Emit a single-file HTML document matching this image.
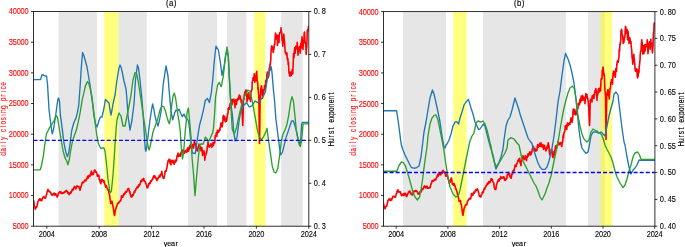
<!DOCTYPE html>
<html><head><meta charset="utf-8"><style>
html,body{margin:0;padding:0;background:#fff;width:685px;height:247px;overflow:hidden}
svg{display:block;will-change:transform}
</style></head><body>
<svg width="685" height="247" viewBox="0 0 685 247" font-family="Liberation Sans, sans-serif" font-size="8.1"><rect width="685" height="247" fill="#fff"/><clipPath id="clip33"><rect x="33.5" y="11.5" width="275.30" height="214.70"/></clipPath><rect x="58.6" y="11.5" width="38.40" height="214.70" fill="#808080" fill-opacity="0.2"/><rect x="118.4" y="11.5" width="28.40" height="214.70" fill="#808080" fill-opacity="0.2"/><rect x="188.2" y="11.5" width="28.80" height="214.70" fill="#808080" fill-opacity="0.2"/><rect x="227" y="11.5" width="19.30" height="214.70" fill="#808080" fill-opacity="0.2"/><rect x="281.2" y="11.5" width="21.50" height="214.70" fill="#808080" fill-opacity="0.2"/><rect x="104.2" y="11.5" width="14.20" height="214.70" fill="#ffff00" fill-opacity="0.5"/><rect x="254.1" y="11.5" width="11.40" height="214.70" fill="#ffff00" fill-opacity="0.5"/><g clip-path="url(#clip33)"><path d="M33.5,200.3 L33.8,201.3 L34.0,202.9 L34.2,205.1 L34.5,206.9 L34.8,206.8 L35.0,208.0 L35.2,209.1 L35.5,208.9 L35.8,207.8 L36.0,207.4 L36.2,207.1 L36.5,207.3 L36.8,206.7 L37.0,206.4 L37.2,205.1 L37.5,203.8 L37.8,202.3 L38.0,201.4 L38.2,201.1 L38.5,200.9 L38.8,199.9 L39.0,200.3 L39.2,199.9 L39.5,199.3 L39.8,198.7 L40.0,200.0 L40.2,200.1 L40.5,199.7 L40.8,199.4 L41.0,200.7 L41.2,200.1 L41.5,200.4 L41.8,200.6 L42.0,198.7 L42.2,199.2 L42.5,198.7 L42.8,197.6 L43.0,197.1 L43.2,197.2 L43.5,197.1 L43.8,197.2 L44.0,196.5 L44.2,197.1 L44.5,197.6 L44.8,198.1 L45.0,197.7 L45.2,197.9 L45.5,198.1 L45.8,197.3 L46.0,196.6 L46.2,195.6 L46.5,194.6 L46.8,194.0 L47.0,192.0 L47.2,191.5 L47.5,191.6 L47.8,190.0 L48.0,189.3 L48.2,191.0 L48.5,190.6 L48.8,190.7 L49.0,191.4 L49.2,191.6 L49.5,191.5 L49.8,191.7 L50.0,192.1 L50.2,191.9 L50.5,192.2 L50.8,193.3 L51.0,193.3 L51.2,194.2 L51.5,194.6 L51.8,194.9 L52.0,195.1 L52.2,194.8 L52.5,195.0 L52.8,194.9 L53.0,193.9 L53.2,194.3 L53.5,194.5 L53.8,194.5 L54.0,194.4 L54.2,193.1 L54.5,194.8 L54.8,195.2 L55.0,193.8 L55.2,194.4 L55.5,193.9 L55.8,194.3 L56.0,194.0 L56.2,195.1 L56.5,195.5 L56.8,195.9 L57.0,196.2 L57.2,197.1 L57.5,195.7 L57.8,195.8 L58.0,195.4 L58.2,194.1 L58.5,193.4 L58.8,192.7 L59.0,192.5 L59.2,192.8 L59.5,191.9 L59.8,192.1 L60.0,192.3 L60.2,192.1 L60.5,192.6 L60.8,191.7 L61.0,192.0 L61.2,193.5 L61.5,193.1 L61.8,192.8 L62.0,192.8 L62.2,193.3 L62.5,193.2 L62.8,193.5 L63.0,192.9 L63.2,193.2 L63.5,192.8 L63.8,192.3 L64.0,192.2 L64.2,192.8 L64.5,192.4 L64.8,191.6 L65.0,191.9 L65.2,192.0 L65.5,191.1 L65.8,191.3 L66.0,190.7 L66.2,190.5 L66.5,190.4 L66.8,191.4 L67.0,191.1 L67.2,191.2 L67.5,191.6 L67.8,192.4 L68.0,193.2 L68.2,192.5 L68.5,193.4 L68.8,193.5 L69.0,194.2 L69.2,194.7 L69.5,193.9 L69.8,193.4 L70.0,192.7 L70.2,192.6 L70.5,193.2 L70.8,192.6 L71.0,191.5 L71.2,192.8 L71.5,191.4 L71.8,191.0 L72.0,190.6 L72.2,189.4 L72.5,189.9 L72.8,190.3 L73.0,189.8 L73.2,189.5 L73.5,189.0 L73.8,187.5 L74.0,187.8 L74.2,186.9 L74.5,186.4 L74.8,187.1 L75.0,187.8 L75.2,187.1 L75.5,187.9 L75.8,188.9 L76.0,188.4 L76.2,187.7 L76.5,187.4 L76.8,186.6 L77.0,185.7 L77.2,186.1 L77.5,186.3 L77.8,186.2 L78.0,186.4 L78.2,186.5 L78.5,186.6 L78.8,186.7 L79.0,186.5 L79.2,188.0 L79.5,188.4 L79.8,189.0 L80.0,190.3 L80.2,189.1 L80.5,188.8 L80.8,187.1 L81.0,186.2 L81.2,186.3 L81.5,185.6 L81.8,184.1 L82.0,182.9 L82.2,183.2 L82.5,182.3 L82.8,182.8 L83.0,182.7 L83.2,182.2 L83.5,181.9 L83.8,182.3 L84.0,181.9 L84.2,180.7 L84.5,180.8 L84.8,180.3 L85.0,180.0 L85.2,180.4 L85.5,180.5 L85.8,181.0 L86.0,180.3 L86.2,179.6 L86.5,179.1 L86.8,179.2 L87.0,178.1 L87.2,177.6 L87.5,176.8 L87.8,176.1 L88.0,176.1 L88.2,178.1 L88.5,177.0 L88.8,176.7 L89.0,176.2 L89.2,175.5 L89.5,175.1 L89.8,176.4 L90.0,175.2 L90.2,175.9 L90.5,175.4 L90.8,173.6 L91.0,172.4 L91.2,171.7 L91.5,171.1 L91.8,173.1 L92.0,173.9 L92.2,174.7 L92.5,174.0 L92.8,174.3 L93.0,173.0 L93.2,174.5 L93.5,173.1 L93.8,172.2 L94.0,172.0 L94.2,171.0 L94.5,170.4 L94.8,169.9 L95.0,170.7 L95.2,170.5 L95.5,171.1 L95.8,172.2 L96.0,172.4 L96.2,172.0 L96.5,172.1 L96.8,173.2 L97.0,173.7 L97.2,175.9 L97.5,176.4 L97.8,176.3 L98.0,175.3 L98.2,175.8 L98.5,175.4 L98.8,175.2 L99.0,176.0 L99.2,179.4 L99.5,179.6 L99.8,179.8 L100.0,181.5 L100.2,182.4 L100.5,182.4 L100.8,183.8 L101.0,182.8 L101.2,181.6 L101.5,179.5 L101.8,180.2 L102.0,179.3 L102.2,180.5 L102.5,180.6 L102.8,181.2 L103.0,180.5 L103.2,180.3 L103.5,180.9 L103.8,182.4 L104.0,182.1 L104.2,181.1 L104.5,182.9 L104.8,184.4 L105.0,184.3 L105.2,185.3 L105.5,186.3 L105.8,187.1 L106.0,185.9 L106.2,186.2 L106.5,185.9 L106.8,187.2 L107.0,187.9 L107.2,187.8 L107.5,188.7 L107.8,189.9 L108.0,189.6 L108.2,189.8 L108.5,190.9 L108.8,192.3 L109.0,193.5 L109.2,193.9 L109.5,194.8 L109.8,196.6 L110.0,198.6 L110.2,199.7 L110.5,201.3 L110.8,203.7 L111.0,203.3 L111.2,202.5 L111.5,201.7 L111.8,201.6 L112.0,201.2 L112.2,202.6 L112.5,203.6 L112.8,205.1 L113.0,206.4 L113.2,207.7 L113.5,209.9 L113.8,210.9 L114.0,213.0 L114.2,214.7 L114.5,215.4 L114.8,214.4 L115.0,212.7 L115.2,210.9 L115.5,209.3 L115.8,208.7 L116.0,208.4 L116.2,207.4 L116.5,206.6 L116.8,206.4 L117.0,205.8 L117.2,204.5 L117.5,203.8 L117.8,203.3 L118.0,203.3 L118.2,202.8 L118.5,203.3 L118.8,202.6 L119.0,202.9 L119.2,201.8 L119.5,201.8 L119.8,201.1 L120.0,201.1 L120.2,201.2 L120.5,201.0 L120.8,200.6 L121.0,199.2 L121.2,198.1 L121.5,195.9 L121.8,196.8 L122.0,197.3 L122.2,197.3 L122.5,196.1 L122.8,197.3 L123.0,196.1 L123.2,196.1 L123.5,194.5 L123.8,193.9 L124.0,194.5 L124.2,194.7 L124.5,193.6 L124.8,193.3 L125.0,193.8 L125.2,192.2 L125.5,192.7 L125.8,191.5 L126.0,191.9 L126.2,191.6 L126.5,192.1 L126.8,191.4 L127.0,190.9 L127.2,190.5 L127.5,189.7 L127.8,189.5 L128.0,188.8 L128.2,188.5 L128.5,189.1 L128.8,188.7 L129.0,189.7 L129.2,190.8 L129.5,191.9 L129.8,191.6 L130.0,192.7 L130.2,194.1 L130.5,194.9 L130.8,195.8 L131.0,196.8 L131.2,195.9 L131.5,196.6 L131.8,197.1 L132.0,196.4 L132.2,195.1 L132.5,195.0 L132.8,194.6 L133.0,195.4 L133.2,195.5 L133.5,194.4 L133.8,193.2 L134.0,192.3 L134.2,192.0 L134.5,191.2 L134.8,192.3 L135.0,190.9 L135.2,190.4 L135.5,190.2 L135.8,190.0 L136.0,188.9 L136.2,188.5 L136.5,188.3 L136.8,188.2 L137.0,187.4 L137.2,186.8 L137.5,186.7 L137.8,187.7 L138.0,186.1 L138.2,186.1 L138.5,186.7 L138.8,184.8 L139.0,185.4 L139.2,185.6 L139.5,184.6 L139.8,184.5 L140.0,184.6 L140.2,183.4 L140.5,182.9 L140.8,181.4 L141.0,180.6 L141.2,180.6 L141.5,180.4 L141.8,181.5 L142.0,180.8 L142.2,179.4 L142.5,180.1 L142.8,180.5 L143.0,180.3 L143.2,179.7 L143.5,178.6 L143.8,178.5 L144.0,180.3 L144.2,181.1 L144.5,181.2 L144.8,181.7 L145.0,181.5 L145.2,181.5 L145.5,182.4 L145.8,183.7 L146.0,183.8 L146.2,184.3 L146.5,184.9 L146.8,186.4 L147.0,187.8 L147.2,187.6 L147.5,187.8 L147.8,187.6 L148.0,187.2 L148.2,185.9 L148.5,184.8 L148.8,183.5 L149.0,184.8 L149.2,184.0 L149.5,183.2 L149.8,182.6 L150.0,183.1 L150.2,183.4 L150.5,182.9 L150.8,180.7 L151.0,181.2 L151.2,181.4 L151.5,181.2 L151.8,180.6 L152.0,179.7 L152.2,179.8 L152.5,178.7 L152.8,179.1 L153.0,178.0 L153.2,177.2 L153.5,176.6 L153.8,176.0 L154.0,175.6 L154.2,176.3 L154.5,177.7 L154.8,176.9 L155.0,176.0 L155.2,177.4 L155.5,177.1 L155.8,177.6 L156.0,178.1 L156.2,179.1 L156.5,178.5 L156.8,179.9 L157.0,180.7 L157.2,178.9 L157.5,179.5 L157.8,178.8 L158.0,178.8 L158.2,178.3 L158.5,177.1 L158.8,176.5 L159.0,176.5 L159.2,176.0 L159.5,175.4 L159.8,177.1 L160.0,176.8 L160.2,175.1 L160.5,175.0 L160.8,175.0 L161.0,173.8 L161.2,173.9 L161.5,173.0 L161.8,171.3 L162.0,173.1 L162.2,174.8 L162.5,176.2 L162.8,176.7 L163.0,177.0 L163.2,178.0 L163.5,178.5 L163.8,178.2 L164.0,178.1 L164.2,177.3 L164.5,175.2 L164.8,174.0 L165.0,171.5 L165.2,171.5 L165.5,171.1 L165.8,171.4 L166.0,170.8 L166.2,171.2 L166.5,169.1 L166.8,168.4 L167.0,167.2 L167.2,166.1 L167.5,163.6 L167.8,162.9 L168.0,160.9 L168.2,161.1 L168.5,160.7 L168.8,161.1 L169.0,159.2 L169.2,159.9 L169.5,160.8 L169.8,159.3 L170.0,162.6 L170.2,163.6 L170.5,162.4 L170.8,164.2 L171.0,164.8 L171.2,160.9 L171.5,160.4 L171.8,160.5 L172.0,161.4 L172.2,161.1 L172.5,161.8 L172.8,162.8 L173.0,160.2 L173.2,161.0 L173.5,162.8 L173.8,162.6 L174.0,163.4 L174.2,164.2 L174.5,163.1 L174.8,162.3 L175.0,161.6 L175.2,160.1 L175.5,162.1 L175.8,161.2 L176.0,160.6 L176.2,160.5 L176.5,160.9 L176.8,157.7 L177.0,155.7 L177.2,155.5 L177.5,155.8 L177.8,154.2 L178.0,153.1 L178.2,155.2 L178.5,156.6 L178.8,156.5 L179.0,156.2 L179.2,155.6 L179.5,154.5 L179.8,154.1 L180.0,154.9 L180.2,154.8 L180.5,156.1 L180.8,154.1 L181.0,152.1 L181.2,153.4 L181.5,152.5 L181.8,152.6 L182.0,153.1 L182.2,151.7 L182.5,150.4 L182.8,152.2 L183.0,149.8 L183.2,152.4 L183.5,151.4 L183.8,153.3 L184.0,153.5 L184.2,153.3 L184.5,153.3 L184.8,152.7 L185.0,150.5 L185.2,151.7 L185.5,151.5 L185.8,151.7 L186.0,151.0 L186.2,150.4 L186.5,151.4 L186.8,152.2 L187.0,151.7 L187.2,149.5 L187.5,148.5 L187.8,147.8 L188.0,150.2 L188.2,151.1 L188.5,151.2 L188.8,150.1 L189.0,148.4 L189.2,149.1 L189.5,146.8 L189.8,145.6 L190.0,147.2 L190.2,148.0 L190.5,147.6 L190.8,145.5 L191.0,144.0 L191.2,145.8 L191.5,146.2 L191.8,148.0 L192.0,146.4 L192.2,145.9 L192.5,144.6 L192.8,147.5 L193.0,144.8 L193.2,146.2 L193.5,148.2 L193.8,145.9 L194.0,143.4 L194.2,142.2 L194.5,140.9 L194.8,142.8 L195.0,143.7 L195.2,143.2 L195.5,143.9 L195.8,147.0 L196.0,147.0 L196.2,146.9 L196.5,150.2 L196.8,148.8 L197.0,148.5 L197.2,151.0 L197.5,151.0 L197.8,148.6 L198.0,148.4 L198.2,146.3 L198.5,145.9 L198.8,146.6 L199.0,144.1 L199.2,146.5 L199.5,148.1 L199.8,148.6 L200.0,146.8 L200.2,146.5 L200.5,147.6 L200.8,149.1 L201.0,150.8 L201.2,147.5 L201.5,147.5 L201.8,147.5 L202.0,148.9 L202.2,151.0 L202.5,155.4 L202.8,153.9 L203.0,153.9 L203.2,152.6 L203.5,151.3 L203.8,152.6 L204.0,150.8 L204.2,152.5 L204.5,155.8 L204.8,160.1 L205.0,158.4 L205.2,156.5 L205.5,154.9 L205.8,155.0 L206.0,154.2 L206.2,153.0 L206.5,153.2 L206.8,151.2 L207.0,150.5 L207.2,147.1 L207.5,145.8 L207.8,145.2 L208.0,141.9 L208.2,143.6 L208.5,145.9 L208.8,146.4 L209.0,147.0 L209.2,147.2 L209.5,145.7 L209.8,146.0 L210.0,145.2 L210.2,145.5 L210.5,145.6 L210.8,145.7 L211.0,143.6 L211.2,143.9 L211.5,146.6 L211.8,147.3 L212.0,146.1 L212.2,144.6 L212.5,145.9 L212.8,145.4 L213.0,142.5 L213.2,142.4 L213.5,145.5 L213.8,142.8 L214.0,143.5 L214.2,142.9 L214.5,143.0 L214.8,141.8 L215.0,140.1 L215.2,135.9 L215.5,136.0 L215.8,136.0 L216.0,135.4 L216.2,133.4 L216.5,132.7 L216.8,136.5 L217.0,133.5 L217.2,132.5 L217.5,130.2 L217.8,130.2 L218.0,130.8 L218.2,132.7 L218.5,132.2 L218.8,131.3 L219.0,131.0 L219.2,131.0 L219.5,129.8 L219.8,128.7 L220.0,130.1 L220.2,127.3 L220.5,126.4 L220.8,124.0 L221.0,122.9 L221.2,125.6 L221.5,123.3 L221.8,123.8 L222.0,127.0 L222.2,126.3 L222.5,124.5 L222.8,122.0 L223.0,116.8 L223.2,116.1 L223.5,115.4 L223.8,118.3 L224.0,119.8 L224.2,116.7 L224.5,118.2 L224.8,116.6 L225.0,120.2 L225.2,121.9 L225.5,121.4 L225.8,118.7 L226.0,121.1 L226.2,120.8 L226.5,121.1 L226.8,119.9 L227.0,117.3 L227.2,117.2 L227.5,113.6 L227.8,114.2 L228.0,113.2 L228.2,108.3 L228.5,109.5 L228.8,109.0 L229.0,107.8 L229.2,107.5 L229.5,109.1 L229.8,106.0 L230.0,103.9 L230.2,106.3 L230.5,106.8 L230.8,102.6 L231.0,103.5 L231.2,99.9 L231.5,102.7 L231.8,103.5 L232.0,104.6 L232.2,100.7 L232.5,99.5 L232.8,102.4 L233.0,99.2 L233.2,101.2 L233.5,100.9 L233.8,101.4 L234.0,99.4 L234.2,101.3 L234.5,101.8 L234.8,103.1 L235.0,107.7 L235.2,104.5 L235.5,102.7 L235.8,99.7 L236.0,104.3 L236.2,102.8 L236.5,104.5 L236.8,101.1 L237.0,99.7 L237.2,100.4 L237.5,100.3 L237.8,98.2 L238.0,99.3 L238.2,98.1 L238.5,99.4 L238.8,96.8 L239.0,97.1 L239.2,95.0 L239.5,98.4 L239.8,97.8 L240.0,97.6 L240.2,96.1 L240.5,99.3 L240.8,99.6 L241.0,99.2 L241.2,102.8 L241.5,100.5 L241.8,105.8 L242.0,113.3 L242.2,113.1 L242.5,119.9 L242.8,125.4 L243.0,119.2 L243.2,110.7 L243.5,98.4 L243.8,99.5 L244.0,99.4 L244.2,95.0 L244.5,94.9 L244.8,92.2 L245.0,93.4 L245.2,91.6 L245.5,92.9 L245.8,90.0 L246.0,90.0 L246.2,90.3 L246.5,91.3 L246.8,95.9 L247.0,102.0 L247.2,97.4 L247.5,100.1 L247.8,98.5 L248.0,96.5 L248.2,94.8 L248.5,93.7 L248.8,92.7 L249.0,95.3 L249.2,98.6 L249.5,98.8 L249.8,98.3 L250.0,99.4 L250.2,98.7 L250.5,101.5 L250.8,96.4 L251.0,91.4 L251.2,90.6 L251.5,91.0 L251.8,89.7 L252.0,89.6 L252.2,82.0 L252.5,81.0 L252.8,80.4 L253.0,77.8 L253.2,77.6 L253.5,78.3 L253.8,80.3 L254.0,77.8 L254.2,73.7 L254.5,76.4 L254.8,82.2 L255.0,81.2 L255.2,80.2 L255.5,76.2 L255.8,76.6 L256.0,80.6 L256.2,73.0 L256.5,76.1 L256.8,71.3 L257.0,78.0 L257.2,81.1 L257.5,81.3 L257.8,83.8 L258.0,89.8 L258.2,87.9 L258.5,93.5 L258.8,96.7 L259.0,105.2 L259.2,127.1 L259.5,143.4 L259.8,126.9 L260.0,108.2 L260.2,95.5 L260.5,95.1 L260.8,88.9 L261.0,88.6 L261.2,87.8 L261.5,85.7 L261.8,87.7 L262.0,92.4 L262.2,94.1 L262.5,98.3 L262.8,94.9 L263.0,92.2 L263.2,94.6 L263.5,89.5 L263.8,92.0 L264.0,89.7 L264.2,89.2 L264.5,85.5 L264.8,86.7 L265.0,88.3 L265.2,88.8 L265.5,86.9 L265.8,80.3 L266.0,81.8 L266.2,80.1 L266.5,82.0 L266.8,75.0 L267.0,75.4 L267.2,72.9 L267.5,72.1 L267.8,74.0 L268.0,75.1 L268.2,77.6 L268.5,76.4 L268.8,75.6 L269.0,74.0 L269.2,68.2 L269.5,70.7 L269.8,66.4 L270.0,64.1 L270.2,65.3 L270.5,62.1 L270.8,60.2 L271.0,52.0 L271.2,50.3 L271.5,47.1 L271.8,45.7 L272.0,48.0 L272.2,47.4 L272.5,47.0 L272.8,47.3 L273.0,50.4 L273.2,52.5 L273.5,51.3 L273.8,47.7 L274.0,49.1 L274.2,45.9 L274.5,44.0 L274.8,44.2 L275.0,41.3 L275.2,36.9 L275.5,33.0 L275.8,33.7 L276.0,35.9 L276.2,39.0 L276.5,35.7 L276.8,37.1 L277.0,37.3 L277.2,35.4 L277.5,45.4 L277.8,39.8 L278.0,35.4 L278.2,36.0 L278.5,41.8 L278.8,38.3 L279.0,42.4 L279.2,36.0 L279.5,33.9 L279.8,33.1 L280.0,32.2 L280.2,32.6 L280.5,32.3 L280.8,31.5 L281.0,27.7 L281.2,30.7 L281.5,31.5 L281.8,33.7 L282.0,39.3 L282.2,40.8 L282.5,41.1 L282.8,46.1 L283.0,42.8 L283.2,36.6 L283.5,36.3 L283.8,34.0 L284.0,36.7 L284.2,39.0 L284.5,41.7 L284.8,45.2 L285.0,49.3 L285.2,51.9 L285.5,53.1 L285.8,52.9 L286.0,52.4 L286.2,54.2 L286.5,55.0 L286.8,52.8 L287.0,53.9 L287.2,58.4 L287.5,59.9 L287.8,58.4 L288.0,61.1 L288.2,64.7 L288.5,62.3 L288.8,69.4 L289.0,73.2 L289.2,72.3 L289.5,75.4 L289.8,75.2 L290.0,76.3 L290.2,73.0 L290.5,72.0 L290.8,72.5 L291.0,74.6 L291.2,75.5 L291.5,73.8 L291.8,71.7 L292.0,72.4 L292.2,69.8 L292.5,73.2 L292.8,73.8 L293.0,67.9 L293.2,64.0 L293.5,53.6 L293.8,55.1 L294.0,57.8 L294.2,53.3 L294.5,49.7 L294.8,47.6 L295.0,50.3 L295.2,53.1 L295.5,47.9 L295.8,46.2 L296.0,47.8 L296.2,47.7 L296.5,46.2 L296.8,48.8 L297.0,46.0 L297.2,42.3 L297.5,47.1 L297.8,51.1 L298.0,55.1 L298.2,52.0 L298.5,47.9 L298.8,48.0 L299.0,47.4 L299.2,47.4 L299.5,46.7 L299.8,51.0 L300.0,50.3 L300.2,53.3 L300.5,48.1 L300.8,43.5 L301.0,47.9 L301.2,43.9 L301.5,41.4 L301.8,40.0 L302.0,36.9 L302.2,41.6 L302.5,48.1 L302.8,48.5 L303.0,49.3 L303.2,45.4 L303.5,40.0 L303.8,42.3 L304.0,37.6 L304.2,32.9 L304.5,32.0 L304.8,38.2 L305.0,41.2 L305.2,43.4 L305.5,42.9 L305.8,44.0 L306.0,50.3 L306.2,54.5 L306.5,48.6 L306.8,47.8 L307.0,40.4 L307.2,31.2 L307.5,29.9 L307.8,31.4 L308.0,29.8 L308.2,29.7 L308.5,26.5 L308.8,25.7" fill="none" stroke="#ff0000" stroke-width="1.6" stroke-linejoin="round"/><path d="M33.5,79.6 L40.6,79.6 L42.0,74.6 L43.5,75.2 L45.0,76.0 L46.5,76.0 L47.5,84.0 L49.0,109.5 L51.4,129.0 L52.3,133.8 L53.6,129.0 L55.6,116.0 L57.8,99.7 L58.6,98.0 L59.5,101.4 L60.3,114.2 L62.2,128.4 L63.9,142.6 L65.9,152.5 L67.3,156.7 L68.8,152.5 L70.2,142.6 L71.6,131.2 L73.0,125.5 L74.4,121.3 L75.9,118.4 L77.3,112.8 L78.7,105.7 L80.2,85.0 L81.5,65.0 L82.6,52.4 L84.0,56.0 L85.4,61.0 L87.0,67.0 L88.5,76.0 L90.0,85.0 L92.6,104.0 L94.0,116.0 L95.5,124.0 L97.0,127.0 L99.4,119.2 L100.5,117.0 L102.0,117.0 L104.0,108.0 L105.4,99.4 L107.0,101.0 L108.0,102.0 L109.0,103.0 L110.0,110.0 L111.0,115.0 L112.0,110.0 L113.0,104.0 L115.0,95.0 L117.0,80.0 L119.0,68.0 L120.0,65.0 L121.0,67.0 L122.0,71.0 L124.0,81.0 L126.0,89.0 L127.0,100.0 L128.0,116.0 L130.0,130.0 L132.0,120.0 L134.0,104.0 L135.5,80.0 L137.4,65.0 L138.5,68.0 L140.0,80.0 L142.0,100.0 L143.5,120.0 L144.5,138.0 L145.3,149.0 L145.9,151.2 L146.6,148.0 L147.3,142.0 L148.5,132.0 L150.0,120.0 L151.5,110.0 L152.6,104.0 L154.0,110.0 L155.0,116.0 L156.5,122.0 L158.0,126.0 L159.5,120.0 L161.0,112.0 L163.2,84.3 L166.0,66.0 L168.0,76.0 L169.1,89.9 L170.2,102.8 L171.4,113.3 L172.7,119.8 L174.3,114.1 L175.9,110.1 L177.5,110.9 L179.1,109.3 L180.7,113.3 L182.4,116.6 L184.0,114.1 L185.6,117.4 L187.2,119.0 L188.5,121.0 L189.5,128.0 L190.8,140.0 L191.8,150.0 L192.5,153.0 L195.3,153.5 L196.3,146.0 L198.0,134.7 L199.6,125.0 L201.3,118.7 L203.3,110.6 L205.3,100.5 L207.4,98.5 L209.4,102.5 L211.4,92.4 L212.7,79.7 L214.7,57.0 L216.0,46.2 L218.4,50.0 L220.4,62.7 L222.0,75.4 L224.0,67.0 L225.5,55.6 L227.0,50.0 L228.3,57.0 L229.7,82.5 L231.0,105.0 L232.3,114.0 L233.7,131.0 L235.1,141.0 L237.0,137.0 L238.8,122.6 L240.8,111.0 L243.6,105.6 L246.5,102.7 L249.3,107.0 L252.0,105.6 L255.0,101.0 L257.8,102.7 L260.7,100.0 L263.5,95.6 L265.4,92.0 L267.0,80.3 L268.7,73.0 L270.3,69.7 L271.1,66.5 L271.9,71.4 L272.7,81.1 L273.5,90.8 L274.4,99.0 L275.9,119.0 L277.8,133.7 L279.6,148.3 L280.7,154.8 L282.5,152.0 L284.3,144.6 L286.1,137.4 L288.0,131.9 L289.8,126.4 L291.6,121.0 L293.4,121.0 L295.2,126.4 L297.0,133.7 L298.2,139.2 L299.6,144.6 L300.6,141.0 L301.1,133.0 L301.6,124.5 L302.3,122.3 L308.8,122.3" fill="none" stroke="#1f77b4" stroke-width="1.35" stroke-linejoin="round"/><path d="M33.5,169.9 L40.2,169.9 L41.3,166.3 L42.3,161.0 L43.4,155.8 L44.4,147.4 L45.5,140.0 L46.5,133.7 L47.6,131.6 L48.6,129.5 L49.7,127.4 L51.8,124.2 L53.9,121.0 L55.5,117.0 L56.5,115.8 L57.4,117.0 L58.8,125.5 L61.1,139.7 L63.1,151.0 L65.1,158.2 L66.8,161.0 L67.9,164.7 L69.3,159.6 L70.8,149.6 L72.5,141.1 L74.4,135.5 L76.4,129.8 L78.1,122.7 L80.1,112.8 L81.5,104.3 L82.2,99.7 L83.8,93.2 L85.4,86.0 L87.4,81.6 L89.0,84.0 L90.5,90.0 L91.9,96.5 L93.5,109.5 L95.1,122.4 L96.8,135.4 L98.4,143.5 L100.0,147.0 L101.0,148.6 L102.0,148.0 L104.0,148.0 L105.0,151.0 L106.6,165.0 L108.0,179.0 L110.0,193.0 L111.4,191.0 L113.0,175.0 L114.0,161.0 L115.0,145.0 L116.0,130.0 L117.0,120.0 L119.0,113.0 L121.0,116.0 L123.0,126.0 L125.0,126.0 L127.0,116.0 L129.0,106.0 L131.0,95.0 L133.0,80.0 L135.0,72.6 L136.6,73.4 L138.0,80.0 L139.5,90.0 L141.0,100.0 L143.0,114.0 L145.5,130.0 L147.0,140.0 L148.2,147.0 L149.1,150.0 L150.0,147.0 L151.5,139.7 L153.0,132.0 L155.7,124.6 L157.3,120.6 L158.9,114.1 L160.5,108.5 L162.1,106.0 L163.8,106.8 L165.4,110.9 L167.0,117.4 L168.6,122.2 L169.4,123.8 L170.7,117.4 L171.8,104.4 L173.0,96.3 L174.3,93.1 L175.6,98.0 L176.7,106.0 L177.8,114.1 L179.1,122.2 L180.2,130.9 L181.5,150.0 L182.5,159.0 L183.6,153.0 L185.1,132.9 L187.1,112.6 L188.4,108.0 L189.6,120.7 L191.0,137.0 L192.0,157.0 L193.6,175.0 L195.0,195.6 L196.4,179.0 L198.0,161.0 L199.6,146.0 L201.2,143.6 L202.8,144.4 L204.1,141.2 L205.3,137.2 L206.9,138.8 L208.5,141.2 L209.3,140.4 L210.6,137.2 L211.7,134.7 L212.6,133.1 L213.5,128.0 L214.5,115.0 L215.6,96.6 L217.6,85.0 L219.3,82.5 L221.2,86.7 L223.2,76.8 L225.0,61.0 L227.0,47.0 L228.3,55.6 L229.2,76.8 L230.3,96.6 L231.0,109.0 L232.3,129.7 L234.3,134.0 L236.5,128.0 L239.4,114.0 L242.2,102.7 L245.0,95.6 L247.9,90.0 L250.0,91.4 L252.0,100.0 L253.6,108.4 L255.6,119.8 L257.3,129.7 L259.3,136.8 L261.5,139.7 L263.5,136.8 L265.5,132.6 L267.0,128.3 L268.6,141.0 L270.5,153.8 L272.3,166.5 L274.1,172.0 L275.9,173.0 L277.8,168.3 L279.6,155.6 L281.4,141.0 L283.2,133.7 L285.0,130.0 L286.9,124.6 L288.7,115.5 L290.5,102.7 L292.0,96.6 L293.4,101.0 L294.9,115.5 L296.3,130.0 L297.8,139.2 L299.2,144.6 L300.3,146.5 L301.5,141.0 L302.4,132.0 L302.9,125.5 L303.5,123.8 L308.8,123.8" fill="none" stroke="#2ca02c" stroke-width="1.35" stroke-linejoin="round"/><line x1="33.5" y1="140.4" x2="308.8" y2="140.4" stroke="#0000ff" stroke-width="1.4" stroke-dasharray="4 2.1"/></g><rect x="33.5" y="11.5" width="275.30" height="214.70" fill="none" stroke="#1a1a1a" stroke-width="0.9"/><line x1="31.0" y1="11.50" x2="33.5" y2="11.50" stroke="#000" stroke-width="0.8"/><text x="12.30 16.79 21.28 25.77 30.26" y="14.45" text-anchor="middle" fill="#ff0000" font-size="8.4" stroke="#ff0000" stroke-width="0.1" transform="scale(0.88,1)" >40000</text><line x1="31.0" y1="42.17" x2="33.5" y2="42.17" stroke="#000" stroke-width="0.8"/><text x="12.30 16.79 21.28 25.77 30.26" y="45.12" text-anchor="middle" fill="#ff0000" font-size="8.4" stroke="#ff0000" stroke-width="0.1" transform="scale(0.88,1)" >35000</text><line x1="31.0" y1="72.84" x2="33.5" y2="72.84" stroke="#000" stroke-width="0.8"/><text x="12.30 16.79 21.28 25.77 30.26" y="75.79" text-anchor="middle" fill="#ff0000" font-size="8.4" stroke="#ff0000" stroke-width="0.1" transform="scale(0.88,1)" >30000</text><line x1="31.0" y1="103.51" x2="33.5" y2="103.51" stroke="#000" stroke-width="0.8"/><text x="12.30 16.79 21.28 25.77 30.26" y="106.46" text-anchor="middle" fill="#ff0000" font-size="8.4" stroke="#ff0000" stroke-width="0.1" transform="scale(0.88,1)" >25000</text><line x1="31.0" y1="134.19" x2="33.5" y2="134.19" stroke="#000" stroke-width="0.8"/><text x="12.30 16.79 21.28 25.77 30.26" y="137.14" text-anchor="middle" fill="#ff0000" font-size="8.4" stroke="#ff0000" stroke-width="0.1" transform="scale(0.88,1)" >20000</text><line x1="31.0" y1="164.86" x2="33.5" y2="164.86" stroke="#000" stroke-width="0.8"/><text x="12.30 16.79 21.28 25.77 30.26" y="167.81" text-anchor="middle" fill="#ff0000" font-size="8.4" stroke="#ff0000" stroke-width="0.1" transform="scale(0.88,1)" >15000</text><line x1="31.0" y1="195.53" x2="33.5" y2="195.53" stroke="#000" stroke-width="0.8"/><text x="12.30 16.79 21.28 25.77 30.26" y="198.48" text-anchor="middle" fill="#ff0000" font-size="8.4" stroke="#ff0000" stroke-width="0.1" transform="scale(0.88,1)" >10000</text><line x1="31.0" y1="226.20" x2="33.5" y2="226.20" stroke="#000" stroke-width="0.8"/><text x="16.79 21.28 25.77 30.26" y="229.15" text-anchor="middle" fill="#ff0000" font-size="8.4" stroke="#ff0000" stroke-width="0.1" transform="scale(0.88,1)" >5000</text><line x1="308.8" y1="11.50" x2="311.3" y2="11.50" stroke="#000" stroke-width="0.8"/><text x="358.95 362.53 367.93" y="14.45" text-anchor="middle" fill="#000" font-size="8.4" stroke="#000" stroke-width="0.1" transform="scale(0.88,1)" >0.8</text><line x1="308.8" y1="54.44" x2="311.3" y2="54.44" stroke="#000" stroke-width="0.8"/><text x="358.95 362.53 367.93" y="57.39" text-anchor="middle" fill="#000" font-size="8.4" stroke="#000" stroke-width="0.1" transform="scale(0.88,1)" >0.7</text><line x1="308.8" y1="97.38" x2="311.3" y2="97.38" stroke="#000" stroke-width="0.8"/><text x="358.95 362.53 367.93" y="100.33" text-anchor="middle" fill="#000" font-size="8.4" stroke="#000" stroke-width="0.1" transform="scale(0.88,1)" >0.6</text><line x1="308.8" y1="140.32" x2="311.3" y2="140.32" stroke="#000" stroke-width="0.8"/><text x="358.95 362.53 367.93" y="143.27" text-anchor="middle" fill="#000" font-size="8.4" stroke="#000" stroke-width="0.1" transform="scale(0.88,1)" >0.5</text><line x1="308.8" y1="183.26" x2="311.3" y2="183.26" stroke="#000" stroke-width="0.8"/><text x="358.95 362.53 367.93" y="186.21" text-anchor="middle" fill="#000" font-size="8.4" stroke="#000" stroke-width="0.1" transform="scale(0.88,1)" >0.4</text><line x1="308.8" y1="226.20" x2="311.3" y2="226.20" stroke="#000" stroke-width="0.8"/><text x="358.95 362.53 367.93" y="229.15" text-anchor="middle" fill="#000" font-size="8.4" stroke="#000" stroke-width="0.1" transform="scale(0.88,1)" >0.3</text><line x1="46.80" y1="226.2" x2="46.80" y2="228.7" stroke="#000" stroke-width="0.8"/><text x="46.45 50.94 55.43 59.91" y="237.00" text-anchor="middle" fill="#000" font-size="8.4" stroke="#000" stroke-width="0.1" transform="scale(0.88,1)" >2004</text><line x1="99.20" y1="226.2" x2="99.20" y2="228.7" stroke="#000" stroke-width="0.8"/><text x="105.99 110.48 114.97 119.46" y="237.00" text-anchor="middle" fill="#000" font-size="8.4" stroke="#000" stroke-width="0.1" transform="scale(0.88,1)" >2008</text><line x1="151.60" y1="226.2" x2="151.60" y2="228.7" stroke="#000" stroke-width="0.8"/><text x="165.54 170.03 174.52 179.01" y="237.00" text-anchor="middle" fill="#000" font-size="8.4" stroke="#000" stroke-width="0.1" transform="scale(0.88,1)" >2012</text><line x1="204.00" y1="226.2" x2="204.00" y2="228.7" stroke="#000" stroke-width="0.8"/><text x="225.09 229.57 234.06 238.55" y="237.00" text-anchor="middle" fill="#000" font-size="8.4" stroke="#000" stroke-width="0.1" transform="scale(0.88,1)" >2016</text><line x1="256.40" y1="226.2" x2="256.40" y2="228.7" stroke="#000" stroke-width="0.8"/><text x="284.63 289.12 293.61 298.10" y="237.00" text-anchor="middle" fill="#000" font-size="8.4" stroke="#000" stroke-width="0.1" transform="scale(0.88,1)" >2020</text><line x1="308.80" y1="226.2" x2="308.80" y2="228.7" stroke="#000" stroke-width="0.8"/><text x="344.18 348.66 353.15 357.64" y="237.00" text-anchor="middle" fill="#000" font-size="8.4" stroke="#000" stroke-width="0.1" transform="scale(0.88,1)" >2024</text><text x="185.78 190.17 194.56" y="6.00" text-anchor="middle" fill="#000" font-size="8.6" stroke="#000" stroke-width="0.15" transform="scale(0.9,1)" >(a)</text><text x="165.53 169.28 173.03 176.78" y="245.70" text-anchor="middle" fill="#000" font-size="7.1" stroke="#000" stroke-width="0.15" >year</text><g transform="translate(5.6,118.85) rotate(-90)"><text x="-44.77 -39.79 -34.82 -29.85 -24.87 -14.92 -9.95 -4.97 0.00 4.97 9.95 14.92 24.87 29.85 34.82 39.79 44.77" y="0.00" text-anchor="middle" fill="#ff0000" font-size="8.6" stroke="#ff0000" stroke-width="0.05" transform="scale(0.78,1)" >dailyclosingprice</text></g><g transform="translate(334.4,118.85) rotate(-90)"><text x="-32.33 -27.36 -22.38 -17.41 -12.44 -2.49 2.49 7.46 12.44 17.41 22.38 27.36 32.33" y="0.00" text-anchor="middle" fill="#000" font-size="8.6" stroke="#000" stroke-width="0.18" transform="scale(0.78,1)" >Hurstexponent</text></g><clipPath id="clip383"><rect x="383.5" y="11.6" width="271.40" height="214.60"/></clipPath><rect x="403" y="11.6" width="43.00" height="214.60" fill="#808080" fill-opacity="0.2"/><rect x="483" y="11.6" width="82.90" height="214.60" fill="#808080" fill-opacity="0.2"/><rect x="588" y="11.6" width="16.80" height="214.60" fill="#808080" fill-opacity="0.2"/><rect x="453.2" y="11.6" width="13.50" height="214.60" fill="#ffff00" fill-opacity="0.5"/><rect x="600.7" y="11.6" width="11.50" height="214.60" fill="#ffff00" fill-opacity="0.5"/><g clip-path="url(#clip383)"><path d="M383.5,203.1 L383.8,204.8 L384.0,205.7 L384.2,206.4 L384.5,207.9 L384.8,207.9 L385.0,208.8 L385.2,208.6 L385.5,207.6 L385.8,206.5 L386.0,206.1 L386.2,206.0 L386.5,206.2 L386.8,205.6 L387.0,205.3 L387.2,204.0 L387.5,202.8 L387.8,201.3 L388.0,200.4 L388.2,200.0 L388.5,200.0 L388.8,199.1 L389.0,199.5 L389.2,199.2 L389.5,199.0 L389.8,198.9 L390.0,200.4 L390.2,200.4 L390.5,200.0 L390.8,199.4 L391.0,200.2 L391.2,199.4 L391.5,199.7 L391.8,200.0 L392.0,198.0 L392.2,198.5 L392.5,197.9 L392.8,196.8 L393.0,196.3 L393.2,196.7 L393.5,196.8 L393.8,196.8 L394.0,196.1 L394.2,196.6 L394.5,197.0 L394.8,197.3 L395.0,197.0 L395.2,197.2 L395.5,197.1 L395.8,195.9 L396.0,195.0 L396.2,194.0 L396.5,193.5 L396.8,193.3 L397.0,191.4 L397.2,190.9 L397.5,191.4 L397.8,190.1 L398.0,189.8 L398.2,191.5 L398.5,191.2 L398.8,191.4 L399.0,192.2 L399.2,192.3 L399.5,192.0 L399.8,191.9 L400.0,191.8 L400.2,191.7 L400.5,192.1 L400.8,193.6 L401.0,193.9 L401.2,195.0 L401.5,195.4 L401.8,195.7 L402.0,195.5 L402.2,194.8 L402.5,194.8 L402.8,194.6 L403.0,193.7 L403.2,194.5 L403.5,195.1 L403.8,195.5 L404.0,195.4 L404.2,193.8 L404.5,194.8 L404.8,194.6 L405.0,193.1 L405.2,193.6 L405.5,193.7 L405.8,194.8 L406.0,195.1 L406.2,196.2 L406.5,196.6 L406.8,196.2 L407.0,195.5 L407.2,195.5 L407.5,193.8 L407.8,193.9 L408.0,193.7 L408.2,192.8 L408.5,192.4 L408.8,191.8 L409.0,191.6 L409.2,191.9 L409.5,191.0 L409.8,191.2 L410.0,191.4 L410.2,191.9 L410.5,192.9 L410.8,192.6 L411.0,193.0 L411.2,194.5 L411.5,194.3 L411.8,194.2 L412.0,194.4 L412.2,195.0 L412.5,194.8 L412.8,194.3 L413.0,192.9 L413.2,192.3 L413.5,191.8 L413.8,191.2 L414.0,191.3 L414.2,191.9 L414.5,191.7 L414.8,190.9 L415.0,191.2 L415.2,191.3 L415.5,190.5 L415.8,191.1 L416.0,190.7 L416.2,190.7 L416.5,190.7 L416.8,191.6 L417.0,191.4 L417.2,191.6 L417.5,192.1 L417.8,193.1 L418.0,193.9 L418.2,193.2 L418.5,194.1 L418.8,193.7 L419.0,193.9 L419.2,193.9 L419.5,192.8 L419.8,192.3 L420.0,191.6 L420.2,191.5 L420.5,192.2 L420.8,191.6 L421.0,190.6 L421.2,191.9 L421.5,190.5 L421.8,190.0 L422.0,189.7 L422.2,188.5 L422.5,189.0 L422.8,189.4 L423.0,188.9 L423.2,188.6 L423.5,188.2 L423.8,186.8 L424.0,187.2 L424.2,186.3 L424.5,185.9 L424.8,186.6 L425.0,187.3 L425.2,186.4 L425.5,187.1 L425.8,188.0 L426.0,187.4 L426.2,186.7 L426.5,186.4 L426.8,186.4 L427.0,186.2 L427.2,187.3 L427.5,188.2 L427.8,188.1 L428.0,188.2 L428.2,188.2 L428.5,188.3 L428.8,188.3 L429.0,187.5 L429.2,188.0 L429.5,187.4 L429.8,187.0 L430.0,187.8 L430.2,186.6 L430.5,186.4 L430.8,184.7 L431.0,183.8 L431.2,184.1 L431.5,183.4 L431.8,181.9 L432.0,180.7 L432.2,181.3 L432.5,180.6 L432.8,181.2 L433.0,181.3 L433.2,180.8 L433.5,180.5 L433.8,180.9 L434.0,180.7 L434.2,179.6 L434.5,179.9 L434.8,179.4 L435.0,179.2 L435.2,179.6 L435.5,179.6 L435.8,179.9 L436.0,179.1 L436.2,178.2 L436.5,177.5 L436.8,177.5 L437.0,176.5 L437.2,175.9 L437.5,175.0 L437.8,174.3 L438.0,174.2 L438.2,176.3 L438.5,175.2 L438.8,174.8 L439.0,174.3 L439.2,173.6 L439.5,173.2 L439.8,174.6 L440.0,173.4 L440.2,174.6 L440.5,175.0 L440.8,174.1 L441.0,173.8 L441.2,173.9 L441.5,173.0 L441.8,173.6 L442.0,173.2 L442.2,172.7 L442.5,170.7 L442.8,171.0 L443.0,170.3 L443.2,172.5 L443.5,171.7 L443.8,171.4 L444.0,172.1 L444.2,171.9 L444.5,172.1 L444.8,172.4 L445.0,174.0 L445.2,174.0 L445.5,174.7 L445.8,175.9 L446.0,176.3 L446.2,175.5 L446.5,174.6 L446.8,174.6 L447.0,174.1 L447.2,175.3 L447.5,176.2 L447.8,177.3 L448.0,177.6 L448.2,179.3 L448.5,180.1 L448.8,180.0 L449.0,180.4 L449.2,183.1 L449.5,182.8 L449.8,182.2 L450.0,182.3 L450.2,181.8 L450.5,180.3 L450.8,180.4 L451.0,178.1 L451.2,178.5 L451.5,178.1 L451.8,180.5 L452.0,181.3 L452.2,183.9 L452.5,184.3 L452.8,184.6 L453.0,183.9 L453.2,183.5 L453.5,183.9 L453.8,185.3 L454.0,184.9 L454.2,183.6 L454.5,185.1 L454.8,186.2 L455.0,185.8 L455.2,186.6 L455.5,188.1 L455.8,189.4 L456.0,188.7 L456.2,189.5 L456.5,189.8 L456.8,191.3 L457.0,192.2 L457.2,192.6 L457.5,194.0 L457.8,195.6 L458.0,195.9 L458.2,196.6 L458.5,197.9 L458.8,199.4 L459.0,200.8 L459.2,201.5 L459.5,201.4 L459.8,201.4 L460.0,201.5 L460.2,200.8 L460.5,200.6 L460.8,202.7 L461.0,203.8 L461.2,204.8 L461.5,205.7 L461.8,207.4 L462.0,209.3 L462.2,211.2 L462.5,212.8 L462.8,214.7 L463.0,215.3 L463.2,213.6 L463.5,212.5 L463.8,210.2 L464.0,209.0 L464.2,207.9 L464.5,207.5 L464.8,207.4 L465.0,206.4 L465.2,205.3 L465.5,204.8 L465.8,205.1 L466.0,205.2 L466.2,204.6 L466.5,204.3 L466.8,204.6 L467.0,204.1 L467.2,202.6 L467.5,201.6 L467.8,200.9 L468.0,200.7 L468.2,199.9 L468.5,200.2 L468.8,199.2 L469.0,199.6 L469.2,198.6 L469.5,198.9 L469.8,198.3 L470.0,198.6 L470.2,198.9 L470.5,198.9 L470.8,198.5 L471.0,197.0 L471.2,195.9 L471.5,193.6 L471.8,194.6 L472.0,195.1 L472.2,195.2 L472.5,194.0 L472.8,195.4 L473.0,194.2 L473.2,194.3 L473.5,192.7 L473.8,192.2 L474.0,192.9 L474.2,193.2 L474.5,192.0 L474.8,191.7 L475.0,192.2 L475.2,190.6 L475.5,191.0 L475.8,189.7 L476.0,190.2 L476.2,189.8 L476.5,190.3 L476.8,189.5 L477.0,189.0 L477.2,188.8 L477.5,189.1 L477.8,190.0 L478.0,190.3 L478.2,191.1 L478.5,192.5 L478.8,193.0 L479.0,194.4 L479.2,195.3 L479.5,196.2 L479.8,195.9 L480.0,196.6 L480.2,197.0 L480.5,196.8 L480.8,196.8 L481.0,196.8 L481.2,194.9 L481.5,194.7 L481.8,194.5 L482.0,193.7 L482.2,192.3 L482.5,192.1 L482.8,191.7 L483.0,192.5 L483.2,192.6 L483.5,191.5 L483.8,190.1 L484.0,189.1 L484.2,188.8 L484.5,188.0 L484.8,189.2 L485.0,187.7 L485.2,187.3 L485.5,187.1 L485.8,187.0 L486.0,185.8 L486.2,185.4 L486.5,185.3 L486.8,185.2 L487.0,184.2 L487.2,183.6 L487.5,183.4 L487.8,184.4 L488.0,182.6 L488.2,182.6 L488.5,183.3 L488.8,181.5 L489.0,182.4 L489.2,182.9 L489.5,182.1 L489.8,182.2 L490.0,182.7 L490.2,181.6 L490.5,181.1 L490.8,179.6 L491.0,178.8 L491.2,178.8 L491.5,178.6 L491.8,180.1 L492.0,180.0 L492.2,179.2 L492.5,180.5 L492.8,181.5 L493.0,181.9 L493.2,182.1 L493.5,182.5 L493.8,183.2 L494.0,185.7 L494.2,187.2 L494.5,188.1 L494.8,189.3 L495.0,189.2 L495.2,188.9 L495.5,189.1 L495.8,189.6 L496.0,188.1 L496.2,186.5 L496.5,184.7 L496.8,184.1 L497.0,184.0 L497.2,182.6 L497.5,181.8 L497.8,180.8 L498.0,180.8 L498.2,180.2 L498.5,179.7 L498.8,179.2 L499.0,181.1 L499.2,180.5 L499.5,179.4 L499.8,178.6 L500.0,178.9 L500.2,179.1 L500.5,178.6 L500.8,176.5 L501.0,177.4 L501.2,178.1 L501.5,178.2 L501.8,178.0 L502.0,177.5 L502.2,178.0 L502.5,177.3 L502.8,178.1 L503.0,177.4 L503.2,177.0 L503.5,176.7 L503.8,176.7 L504.0,176.9 L504.2,178.2 L504.5,180.0 L504.8,179.4 L505.0,178.9 L505.2,180.5 L505.5,180.2 L505.8,179.8 L506.0,179.2 L506.2,179.3 L506.5,177.7 L506.8,178.1 L507.0,177.9 L507.2,175.0 L507.5,174.6 L507.8,174.3 L508.0,174.7 L508.2,174.6 L508.5,173.8 L508.8,173.5 L509.0,173.9 L509.2,173.9 L509.5,173.6 L509.8,176.1 L510.0,176.8 L510.2,176.0 L510.5,176.7 L510.8,177.7 L511.0,177.4 L511.2,178.3 L511.5,176.7 L511.8,174.1 L512.0,174.2 L512.2,174.2 L512.5,173.9 L512.8,172.7 L513.0,171.2 L513.2,170.6 L513.5,170.3 L513.8,170.5 L514.0,170.8 L514.2,170.3 L514.5,168.4 L514.8,167.3 L515.0,165.0 L515.2,165.5 L515.5,165.6 L515.8,166.1 L516.0,165.7 L516.2,166.4 L516.5,164.2 L516.8,163.7 L517.0,163.4 L517.2,163.3 L517.5,161.7 L517.8,161.7 L518.0,160.4 L518.2,160.6 L518.5,160.2 L518.8,160.7 L519.0,158.8 L519.2,158.8 L519.5,159.8 L519.8,158.4 L520.0,161.9 L520.2,163.2 L520.5,162.9 L520.8,164.9 L521.0,165.6 L521.2,161.8 L521.5,161.4 L521.8,160.5 L522.0,160.4 L522.2,159.0 L522.5,158.7 L522.8,158.7 L523.0,155.6 L523.2,156.3 L523.5,158.2 L523.8,157.9 L524.0,158.7 L524.2,159.7 L524.5,158.7 L524.8,158.0 L525.0,157.4 L525.2,155.9 L525.5,158.7 L525.8,158.6 L526.0,158.7 L526.2,159.4 L526.5,160.6 L526.8,157.8 L527.0,156.2 L527.2,156.5 L527.5,157.2 L527.8,155.3 L528.0,153.7 L528.2,155.0 L528.5,155.8 L528.8,155.0 L529.0,154.5 L529.2,153.7 L529.5,152.4 L529.8,151.8 L530.0,152.6 L530.2,153.0 L530.5,155.0 L530.8,153.7 L531.0,152.4 L531.2,154.0 L531.5,152.5 L531.8,152.1 L532.0,151.9 L532.2,150.0 L532.5,148.4 L532.8,149.5 L533.0,146.3 L533.2,148.3 L533.5,146.5 L533.8,148.6 L534.0,149.4 L534.2,149.8 L534.5,150.4 L534.8,150.3 L535.0,148.5 L535.2,150.2 L535.5,150.5 L535.8,151.2 L536.0,151.0 L536.2,149.8 L536.5,150.3 L536.8,150.5 L537.0,149.5 L537.2,146.9 L537.5,145.6 L537.8,144.6 L538.0,146.7 L538.2,147.3 L538.5,147.0 L538.8,146.4 L539.0,145.0 L539.2,146.2 L539.5,144.3 L539.8,143.3 L540.0,145.3 L540.2,146.4 L540.5,146.3 L540.8,144.6 L541.0,142.9 L541.2,144.6 L541.5,145.0 L541.8,146.8 L542.0,145.6 L542.2,145.6 L542.5,144.5 L542.8,147.4 L543.0,144.9 L543.2,146.5 L543.5,149.3 L543.8,147.8 L544.0,146.3 L544.2,146.0 L544.5,145.3 L544.8,147.4 L545.0,148.4 L545.2,148.1 L545.5,148.9 L545.8,151.0 L546.0,149.6 L546.2,148.1 L546.5,150.0 L546.8,147.4 L547.0,146.4 L547.2,148.4 L547.5,147.7 L547.8,144.7 L548.0,144.6 L548.2,142.8 L548.5,143.8 L548.8,146.1 L549.0,145.8 L549.2,150.1 L549.5,153.1 L549.8,154.9 L550.0,153.2 L550.2,152.3 L550.5,152.2 L550.8,152.3 L551.0,152.7 L551.2,149.2 L551.5,149.5 L551.8,149.5 L552.0,150.8 L552.2,152.8 L552.5,156.6 L552.8,156.4 L553.0,157.6 L553.2,156.4 L553.5,154.5 L553.8,155.1 L554.0,151.4 L554.2,151.2 L554.5,152.6 L554.8,155.2 L555.0,151.4 L555.2,148.3 L555.5,146.1 L555.8,145.9 L556.0,146.3 L556.2,146.7 L556.5,148.5 L556.8,147.8 L557.0,147.8 L557.2,145.0 L557.5,144.3 L557.8,144.4 L558.0,141.3 L558.2,142.6 L558.5,144.5 L558.8,144.7 L559.0,144.9 L559.2,144.8 L559.5,143.0 L559.8,143.4 L560.0,142.9 L560.2,143.4 L560.5,143.8 L560.8,144.3 L561.0,142.5 L561.2,143.2 L561.5,146.3 L561.8,146.5 L562.0,144.5 L562.2,142.1 L562.5,142.4 L562.8,140.8 L563.0,136.4 L563.2,135.1 L563.5,137.7 L563.8,133.9 L564.0,133.8 L564.2,132.2 L564.5,132.0 L564.8,131.2 L565.0,129.7 L565.2,125.7 L565.5,126.6 L565.8,127.5 L566.0,127.6 L566.2,125.8 L566.5,125.2 L566.8,129.5 L567.0,126.5 L567.2,125.6 L567.5,123.1 L567.8,123.0 L568.0,123.6 L568.2,125.6 L568.5,125.1 L568.8,124.1 L569.0,124.0 L569.2,124.2 L569.5,123.3 L569.8,122.6 L570.0,124.4 L570.2,121.9 L570.5,121.2 L570.8,118.8 L571.0,117.8 L571.2,120.8 L571.5,118.5 L571.8,119.1 L572.0,122.5 L572.2,121.7 L572.5,119.5 L572.8,116.6 L573.0,110.9 L573.2,109.9 L573.5,109.1 L573.8,112.3 L574.0,113.8 L574.2,110.2 L574.5,111.6 L574.8,109.6 L575.0,113.2 L575.2,114.9 L575.5,114.3 L575.8,111.5 L576.0,114.1 L576.2,113.8 L576.5,114.3 L576.8,113.3 L577.0,110.8 L577.2,111.3 L577.5,108.0 L577.8,109.0 L578.0,108.2 L578.2,103.3 L578.5,104.6 L578.8,104.1 L579.0,103.1 L579.2,103.0 L579.5,104.8 L579.8,101.6 L580.0,99.4 L580.2,102.0 L580.5,102.4 L580.8,98.2 L581.0,99.5 L581.2,96.0 L581.5,98.8 L581.8,99.7 L582.0,100.6 L582.2,96.3 L582.5,95.4 L582.8,99.2 L583.0,96.6 L583.2,99.5 L583.5,99.9 L583.8,100.1 L584.0,97.3 L584.2,98.4 L584.5,98.5 L584.8,99.3 L585.0,103.8 L585.2,100.2 L585.5,98.1 L585.8,93.6 L586.0,97.6 L586.2,95.9 L586.5,97.8 L586.8,94.5 L587.0,94.5 L587.2,97.0 L587.5,98.6 L587.8,98.2 L588.0,100.9 L588.2,101.2 L588.5,105.6 L588.8,109.0 L589.0,114.9 L589.2,118.3 L589.5,125.5 L589.8,120.3 L590.0,111.0 L590.2,100.4 L590.5,101.6 L590.8,100.8 L591.0,99.2 L591.2,101.6 L591.5,98.0 L591.8,99.7 L592.0,102.0 L592.2,95.8 L592.5,97.8 L592.8,98.2 L593.0,97.6 L593.2,98.0 L593.5,94.9 L593.8,97.2 L594.0,98.4 L594.2,95.3 L594.5,95.2 L594.8,91.9 L595.0,92.5 L595.2,90.2 L595.5,90.7 L595.8,88.5 L596.0,89.3 L596.2,90.4 L596.5,91.8 L596.8,95.9 L597.0,100.5 L597.2,94.3 L597.5,95.7 L597.8,93.6 L598.0,91.9 L598.2,90.3 L598.5,89.2 L598.8,88.4 L599.0,90.0 L599.2,92.0 L599.5,90.8 L599.8,88.8 L600.0,88.7 L600.2,87.9 L600.5,91.0 L600.8,85.3 L601.0,79.9 L601.2,78.9 L601.5,79.6 L601.8,78.5 L602.0,78.8 L602.2,70.7 L602.5,70.0 L602.8,69.6 L603.0,67.1 L603.2,68.3 L603.5,71.0 L603.8,75.0 L604.0,74.8 L604.2,73.7 L604.5,79.2 L604.8,87.9 L605.0,90.5 L605.2,93.1 L605.5,95.5 L605.8,116.6 L606.0,139.5 L606.2,127.9 L606.5,114.2 L606.8,93.1 L607.0,95.7 L607.2,95.3 L607.5,91.6 L607.8,89.8 L608.0,92.5 L608.2,89.8 L608.5,94.1 L608.8,95.9 L609.0,95.5 L609.2,99.0 L609.5,94.1 L609.8,92.7 L610.0,88.6 L610.2,88.1 L610.5,88.4 L610.8,82.2 L611.0,82.3 L611.2,82.4 L611.5,80.0 L611.8,79.4 L612.0,81.9 L612.2,81.2 L612.5,84.2 L612.8,78.3 L613.0,73.3 L613.2,76.5 L613.5,71.1 L613.8,74.6 L614.0,73.2 L614.2,74.0 L614.5,71.5 L614.8,73.8 L615.0,76.2 L615.2,77.3 L615.5,75.5 L615.8,68.5 L616.0,70.5 L616.2,68.9 L616.5,71.4 L616.8,64.0 L617.0,64.6 L617.2,61.8 L617.5,60.9 L617.8,61.5 L618.0,61.1 L618.2,62.2 L618.5,59.6 L618.8,58.2 L619.0,56.2 L619.2,49.2 L619.5,51.9 L619.8,46.6 L620.0,43.7 L620.2,44.7 L620.5,41.4 L620.8,39.8 L621.0,31.1 L621.2,30.7 L621.5,29.3 L621.8,30.0 L622.0,34.7 L622.2,34.7 L622.5,35.1 L622.8,36.2 L623.0,40.3 L623.2,43.4 L623.5,42.9 L623.8,39.9 L624.0,42.1 L624.2,38.9 L624.5,37.0 L624.8,37.5 L625.0,34.6 L625.2,30.2 L625.5,26.4 L625.8,27.2 L626.0,29.8 L626.2,33.1 L626.5,29.8 L626.8,31.3 L627.0,31.5 L627.2,29.5 L627.5,39.8 L627.8,34.3 L628.0,31.2 L628.2,33.1 L628.5,40.2 L628.8,38.0 L629.0,43.4 L629.2,38.4 L629.5,37.6 L629.8,38.1 L630.0,38.6 L630.2,40.8 L630.5,42.2 L630.8,43.2 L631.0,41.5 L631.2,46.1 L631.5,48.3 L631.8,50.9 L632.0,56.4 L632.2,58.3 L632.5,59.3 L632.8,64.2 L633.0,61.5 L633.2,56.3 L633.5,56.2 L633.8,54.4 L634.0,56.6 L634.2,58.6 L634.5,61.0 L634.8,64.2 L635.0,67.8 L635.2,70.1 L635.5,71.2 L635.8,70.5 L636.0,69.6 L636.2,70.7 L636.5,70.9 L636.8,68.9 L637.0,70.4 L637.2,75.6 L637.5,77.9 L637.8,77.4 L638.0,76.2 L638.2,75.7 L638.5,69.7 L638.8,72.8 L639.0,72.0 L639.2,66.2 L639.5,65.2 L639.8,61.2 L640.0,60.8 L640.2,55.2 L640.5,52.3 L640.8,50.8 L641.0,49.9 L641.2,47.8 L641.5,42.4 L641.8,39.9 L642.0,43.3 L642.2,42.5 L642.5,49.2 L642.8,53.9 L643.0,51.9 L643.2,52.2 L643.5,45.7 L643.8,50.0 L644.0,53.8 L644.2,49.6 L644.5,46.4 L644.8,44.7 L645.0,47.9 L645.2,51.0 L645.5,46.1 L645.8,44.6 L646.0,46.6 L646.2,46.7 L646.5,44.9 L646.8,46.5 L647.0,43.6 L647.2,39.8 L647.5,44.7 L647.8,48.8 L648.0,53.8 L648.2,50.7 L648.5,45.8 L648.8,45.2 L649.0,43.8 L649.2,43.0 L649.5,41.7 L649.8,46.3 L650.0,45.8 L650.2,49.1 L650.5,44.0 L650.8,39.2 L651.0,44.6 L651.2,42.8 L651.5,42.7 L651.8,43.6 L652.0,43.5 L652.2,51.3 L652.5,52.8 L652.8,48.5 L653.0,46.2 L653.2,39.5 L653.5,32.4 L653.8,31.4 L654.0,26.0 L654.2,23.1 L654.5,22.8 L654.8,24.7" fill="none" stroke="#ff0000" stroke-width="1.6" stroke-linejoin="round"/><path d="M383.5,110.7 L396.6,110.7 L398.6,124.0 L400.6,140.0 L401.4,145.0 L403.0,150.0 L405.0,155.0 L407.0,159.0 L409.0,163.0 L411.0,167.0 L413.0,168.2 L416.0,168.0 L419.0,166.0 L421.0,157.0 L422.0,149.0 L424.0,132.0 L426.0,122.0 L428.0,110.0 L430.0,98.0 L432.4,90.0 L434.0,94.0 L435.4,100.0 L438.0,112.0 L440.0,122.0 L442.0,136.0 L444.0,147.0 L445.0,148.0 L446.0,145.0 L447.0,144.0 L449.0,140.0 L451.0,134.0 L453.0,126.0 L455.0,122.0 L457.0,122.0 L458.6,124.0 L460.0,118.0 L462.0,112.0 L464.0,105.0 L466.0,102.0 L468.4,99.4 L471.0,108.0 L473.0,114.0 L475.0,122.0 L477.0,126.0 L478.6,129.6 L480.0,129.0 L482.0,126.0 L483.6,124.0 L485.0,126.0 L487.0,134.0 L489.0,142.0 L491.0,149.0 L493.0,155.0 L495.0,165.0 L496.0,169.0 L498.0,165.0 L501.0,157.0 L503.0,149.0 L504.0,140.0 L506.0,126.0 L508.0,120.0 L510.0,117.0 L512.0,110.0 L514.0,102.0 L515.0,98.0 L517.0,104.0 L519.0,110.0 L520.0,114.0 L522.0,120.0 L524.0,126.0 L526.0,132.0 L528.0,138.0 L530.0,141.0 L532.0,143.5 L534.0,151.0 L536.0,157.0 L538.0,163.0 L540.0,167.0 L542.0,169.4 L545.0,169.4 L547.0,167.0 L549.0,161.0 L551.0,153.0 L552.4,146.0 L554.0,136.0 L556.0,120.0 L558.0,102.0 L560.0,91.0 L562.0,75.0 L564.0,61.0 L565.6,53.4 L568.0,59.0 L570.0,65.0 L572.0,73.0 L574.0,83.0 L576.0,99.0 L577.0,110.0 L579.0,130.0 L581.0,144.0 L582.0,148.0 L584.0,151.0 L586.0,153.4 L588.0,152.0 L589.0,147.0 L591.0,136.0 L593.0,132.0 L596.0,132.0 L599.0,133.0 L601.0,132.0 L603.0,134.0 L605.0,136.0 L607.0,126.0 L609.0,116.0 L611.0,108.0 L613.0,101.0 L614.0,94.0 L616.0,92.0 L618.0,95.0 L620.0,112.0 L622.0,128.0 L624.0,142.0 L625.0,145.0 L627.0,157.0 L629.0,167.0 L631.0,174.0 L633.0,170.0 L635.0,168.0 L637.0,165.0 L639.0,160.0 L641.0,160.4 L654.9,160.4" fill="none" stroke="#1f77b4" stroke-width="1.35" stroke-linejoin="round"/><path d="M383.5,171.2 L396.8,171.2 L399.0,165.5 L401.5,162.0 L403.5,162.8 L405.4,165.8 L407.5,172.5 L409.7,180.0 L411.5,187.0 L413.0,192.0 L415.0,197.0 L417.4,200.0 L419.5,197.0 L421.0,190.0 L422.5,180.0 L424.0,168.0 L425.5,157.0 L427.0,147.0 L428.0,136.0 L430.0,124.0 L432.0,118.0 L434.0,115.6 L436.0,115.0 L438.0,120.0 L440.0,130.0 L442.0,140.0 L443.4,147.0 L444.0,151.0 L446.0,165.0 L448.0,177.0 L450.0,187.0 L451.0,189.0 L452.0,191.4 L453.0,194.0 L456.0,197.0 L458.6,195.0 L460.0,190.0 L462.0,180.0 L463.0,175.0 L465.0,165.0 L467.0,155.0 L469.0,145.0 L470.0,141.0 L472.0,136.0 L474.0,133.0 L476.0,123.0 L478.0,121.0 L481.0,122.0 L483.0,121.0 L485.0,124.0 L487.0,130.0 L489.0,138.0 L490.0,143.0 L491.0,146.0 L492.0,153.0 L494.0,161.0 L496.0,166.6 L499.0,163.0 L502.0,158.0 L505.0,153.0 L507.0,148.0 L508.0,140.0 L511.0,137.6 L514.0,139.0 L517.0,143.0 L519.0,145.0 L522.0,159.0 L526.0,167.0 L530.0,175.0 L534.0,183.0 L536.0,186.0 L538.0,191.0 L540.0,197.0 L542.0,200.0 L545.0,194.0 L547.0,188.0 L549.0,183.0 L550.0,179.0 L551.0,176.0 L552.0,171.0 L554.0,161.0 L556.0,152.0 L558.0,142.0 L560.0,130.0 L562.0,118.0 L564.0,108.0 L566.0,100.0 L568.0,93.0 L570.0,88.0 L572.4,86.0 L574.4,89.0 L576.0,99.0 L578.0,116.0 L580.0,126.0 L582.0,134.0 L584.0,139.0 L587.0,142.0 L589.0,140.0 L591.0,132.0 L593.0,129.0 L595.0,130.0 L597.0,131.0 L599.0,133.0 L601.0,134.0 L603.0,138.0 L605.0,145.0 L607.0,149.5 L609.0,153.0 L611.0,157.0 L613.0,163.0 L615.0,171.0 L617.0,177.0 L620.0,183.0 L623.0,187.6 L625.0,185.0 L627.0,179.0 L629.0,171.0 L631.0,165.0 L633.0,157.0 L635.0,153.0 L637.6,152.0 L639.6,155.0 L641.0,159.4 L654.9,159.4" fill="none" stroke="#2ca02c" stroke-width="1.35" stroke-linejoin="round"/><line x1="383.5" y1="172.45" x2="654.9" y2="172.45" stroke="#0000ff" stroke-width="1.4" stroke-dasharray="4 2.1"/></g><rect x="383.5" y="11.6" width="271.40" height="214.60" fill="none" stroke="#1a1a1a" stroke-width="0.9"/><line x1="381.0" y1="11.60" x2="383.5" y2="11.60" stroke="#000" stroke-width="0.8"/><text x="410.03 414.52 419.01 423.49 427.98" y="14.55" text-anchor="middle" fill="#ff0000" font-size="8.4" stroke="#ff0000" stroke-width="0.1" transform="scale(0.88,1)" >40000</text><line x1="381.0" y1="42.26" x2="383.5" y2="42.26" stroke="#000" stroke-width="0.8"/><text x="410.03 414.52 419.01 423.49 427.98" y="45.21" text-anchor="middle" fill="#ff0000" font-size="8.4" stroke="#ff0000" stroke-width="0.1" transform="scale(0.88,1)" >35000</text><line x1="381.0" y1="72.91" x2="383.5" y2="72.91" stroke="#000" stroke-width="0.8"/><text x="410.03 414.52 419.01 423.49 427.98" y="75.86" text-anchor="middle" fill="#ff0000" font-size="8.4" stroke="#ff0000" stroke-width="0.1" transform="scale(0.88,1)" >30000</text><line x1="381.0" y1="103.57" x2="383.5" y2="103.57" stroke="#000" stroke-width="0.8"/><text x="410.03 414.52 419.01 423.49 427.98" y="106.52" text-anchor="middle" fill="#ff0000" font-size="8.4" stroke="#ff0000" stroke-width="0.1" transform="scale(0.88,1)" >25000</text><line x1="381.0" y1="134.23" x2="383.5" y2="134.23" stroke="#000" stroke-width="0.8"/><text x="410.03 414.52 419.01 423.49 427.98" y="137.18" text-anchor="middle" fill="#ff0000" font-size="8.4" stroke="#ff0000" stroke-width="0.1" transform="scale(0.88,1)" >20000</text><line x1="381.0" y1="164.89" x2="383.5" y2="164.89" stroke="#000" stroke-width="0.8"/><text x="410.03 414.52 419.01 423.49 427.98" y="167.84" text-anchor="middle" fill="#ff0000" font-size="8.4" stroke="#ff0000" stroke-width="0.1" transform="scale(0.88,1)" >15000</text><line x1="381.0" y1="195.54" x2="383.5" y2="195.54" stroke="#000" stroke-width="0.8"/><text x="410.03 414.52 419.01 423.49 427.98" y="198.49" text-anchor="middle" fill="#ff0000" font-size="8.4" stroke="#ff0000" stroke-width="0.1" transform="scale(0.88,1)" >10000</text><line x1="381.0" y1="226.20" x2="383.5" y2="226.20" stroke="#000" stroke-width="0.8"/><text x="414.52 419.01 423.49 427.98" y="229.15" text-anchor="middle" fill="#ff0000" font-size="8.4" stroke="#ff0000" stroke-width="0.1" transform="scale(0.88,1)" >5000</text><line x1="654.9" y1="11.60" x2="657.4" y2="11.60" stroke="#000" stroke-width="0.8"/><text x="752.13 755.71 761.11 765.60" y="14.55" text-anchor="middle" fill="#000" font-size="8.4" stroke="#000" stroke-width="0.1" transform="scale(0.88,1)" >0.80</text><line x1="654.9" y1="38.42" x2="657.4" y2="38.42" stroke="#000" stroke-width="0.8"/><text x="752.13 755.71 761.11 765.60" y="41.38" text-anchor="middle" fill="#000" font-size="8.4" stroke="#000" stroke-width="0.1" transform="scale(0.88,1)" >0.75</text><line x1="654.9" y1="65.25" x2="657.4" y2="65.25" stroke="#000" stroke-width="0.8"/><text x="752.13 755.71 761.11 765.60" y="68.20" text-anchor="middle" fill="#000" font-size="8.4" stroke="#000" stroke-width="0.1" transform="scale(0.88,1)" >0.70</text><line x1="654.9" y1="92.07" x2="657.4" y2="92.07" stroke="#000" stroke-width="0.8"/><text x="752.13 755.71 761.11 765.60" y="95.02" text-anchor="middle" fill="#000" font-size="8.4" stroke="#000" stroke-width="0.1" transform="scale(0.88,1)" >0.65</text><line x1="654.9" y1="118.90" x2="657.4" y2="118.90" stroke="#000" stroke-width="0.8"/><text x="752.13 755.71 761.11 765.60" y="121.85" text-anchor="middle" fill="#000" font-size="8.4" stroke="#000" stroke-width="0.1" transform="scale(0.88,1)" >0.60</text><line x1="654.9" y1="145.72" x2="657.4" y2="145.72" stroke="#000" stroke-width="0.8"/><text x="752.13 755.71 761.11 765.60" y="148.67" text-anchor="middle" fill="#000" font-size="8.4" stroke="#000" stroke-width="0.1" transform="scale(0.88,1)" >0.55</text><line x1="654.9" y1="172.55" x2="657.4" y2="172.55" stroke="#000" stroke-width="0.8"/><text x="752.13 755.71 761.11 765.60" y="175.50" text-anchor="middle" fill="#000" font-size="8.4" stroke="#000" stroke-width="0.1" transform="scale(0.88,1)" >0.50</text><line x1="654.9" y1="199.38" x2="657.4" y2="199.38" stroke="#000" stroke-width="0.8"/><text x="752.13 755.71 761.11 765.60" y="202.32" text-anchor="middle" fill="#000" font-size="8.4" stroke="#000" stroke-width="0.1" transform="scale(0.88,1)" >0.45</text><line x1="654.9" y1="226.20" x2="657.4" y2="226.20" stroke="#000" stroke-width="0.8"/><text x="752.13 755.71 761.11 765.60" y="229.15" text-anchor="middle" fill="#000" font-size="8.4" stroke="#000" stroke-width="0.1" transform="scale(0.88,1)" >0.40</text><line x1="396.20" y1="226.2" x2="396.20" y2="228.7" stroke="#000" stroke-width="0.8"/><text x="443.49 447.98 452.47 456.96" y="237.00" text-anchor="middle" fill="#000" font-size="8.4" stroke="#000" stroke-width="0.1" transform="scale(0.88,1)" >2004</text><line x1="447.90" y1="226.2" x2="447.90" y2="228.7" stroke="#000" stroke-width="0.8"/><text x="502.24 506.73 511.22 515.71" y="237.00" text-anchor="middle" fill="#000" font-size="8.4" stroke="#000" stroke-width="0.1" transform="scale(0.88,1)" >2008</text><line x1="499.60" y1="226.2" x2="499.60" y2="228.7" stroke="#000" stroke-width="0.8"/><text x="560.99 565.48 569.97 574.46" y="237.00" text-anchor="middle" fill="#000" font-size="8.4" stroke="#000" stroke-width="0.1" transform="scale(0.88,1)" >2012</text><line x1="551.30" y1="226.2" x2="551.30" y2="228.7" stroke="#000" stroke-width="0.8"/><text x="619.74 624.23 628.72 633.21" y="237.00" text-anchor="middle" fill="#000" font-size="8.4" stroke="#000" stroke-width="0.1" transform="scale(0.88,1)" >2016</text><line x1="603.00" y1="226.2" x2="603.00" y2="228.7" stroke="#000" stroke-width="0.8"/><text x="678.49 682.98 687.47 691.96" y="237.00" text-anchor="middle" fill="#000" font-size="8.4" stroke="#000" stroke-width="0.1" transform="scale(0.88,1)" >2020</text><line x1="654.70" y1="226.2" x2="654.70" y2="228.7" stroke="#000" stroke-width="0.8"/><text x="737.24 741.73 746.22 750.71" y="237.00" text-anchor="middle" fill="#000" font-size="8.4" stroke="#000" stroke-width="0.1" transform="scale(0.88,1)" >2024</text><text x="572.50 576.89 581.28" y="6.00" text-anchor="middle" fill="#000" font-size="8.6" stroke="#000" stroke-width="0.15" transform="scale(0.9,1)" >(b)</text><text x="513.58 517.33 521.08 524.83" y="245.70" text-anchor="middle" fill="#000" font-size="7.1" stroke="#000" stroke-width="0.15" >year</text><g transform="translate(355.6,118.90) rotate(-90)"><text x="-44.77 -39.79 -34.82 -29.85 -24.87 -14.92 -9.95 -4.97 0.00 4.97 9.95 14.92 24.87 29.85 34.82 39.79 44.77" y="0.00" text-anchor="middle" fill="#ff0000" font-size="8.6" stroke="#ff0000" stroke-width="0.05" transform="scale(0.78,1)" >dailyclosingprice</text></g><g transform="translate(684.0,118.90) rotate(-90)"><text x="-32.33 -27.36 -22.38 -17.41 -12.44 -2.49 2.49 7.46 12.44 17.41 22.38 27.36 32.33" y="0.00" text-anchor="middle" fill="#000" font-size="8.6" stroke="#000" stroke-width="0.18" transform="scale(0.78,1)" >Hurstexponent</text></g></svg>
</body></html>
